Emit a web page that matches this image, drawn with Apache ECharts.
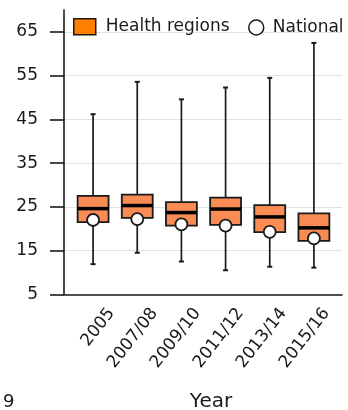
<!DOCTYPE html>
<html>
<head>
<meta charset="utf-8">
<script src="https://cdn.jsdelivr.net/npm/echarts@6/dist/echarts.min.js"></script>
<style>
  html, body { margin: 0; padding: 0; background: #fff; }
  #chart { width: 348px; height: 410px; }
</style>
</head>
<body>
<div id="chart"></div>
<script>
// Survey years
const years = ['2005', '2007/08', '2009/10', '2011/12', '2013/14', '2015/16'];
// Health-region distribution per year: whisker low, lower quartile, median, upper quartile, whisker high
const whiskerLow  = [11.9, 14.5, 12.5, 10.5, 11.3, 11.1];
const quartile1   = [21.5, 22.5, 20.7, 20.9, 19.2, 17.2];
const medians     = [24.6, 25.3, 23.7, 24.5, 22.7, 20.2];
const quartile3   = [27.5, 27.8, 26.1, 27.1, 25.4, 23.5];
const whiskerHigh = [46.2, 53.6, 49.6, 52.3, 54.5, 62.5];
// National value per year
const national    = [22.0, 22.2, 21.0, 20.7, 19.3, 17.8];
// Y axis ticks
const yTicks = [5, 15, 25, 35, 45, 55, 65];

const FONT = 'DejaVu Sans';
const INK = '#1a1a1a';

const boxData = years.map((y, i) => [i, whiskerLow[i], quartile1[i], medians[i], quartile3[i], whiskerHigh[i]]);
const natData = years.map((y, i) => [i, national[i]]);

function renderBox(params, api) {
  const i = api.value(0);
  const pLow = api.coord([i, api.value(1)]);
  const pQ1 = api.coord([i, api.value(2)]);
  const pMed = api.coord([i, api.value(3)]);
  const pQ3 = api.coord([i, api.value(4)]);
  const pHigh = api.coord([i, api.value(5)]);
  const bw = api.size([1, 0])[0] * 0.7;
  const cx = pMed[0];
  const cap = 2.5;
  const lineStyle = { stroke: INK, lineWidth: 1.7 };
  return {
    type: 'group',
    children: [
      { type: 'line', shape: { x1: cx, y1: pLow[1], x2: cx, y2: pQ1[1] }, style: lineStyle },
      { type: 'line', shape: { x1: cx, y1: pQ3[1], x2: cx, y2: pHigh[1] }, style: lineStyle },
      { type: 'line', shape: { x1: cx - cap, y1: pLow[1], x2: cx + cap, y2: pLow[1] }, style: { stroke: INK, lineWidth: 2 } },
      { type: 'line', shape: { x1: cx - cap, y1: pHigh[1], x2: cx + cap, y2: pHigh[1] }, style: { stroke: INK, lineWidth: 2 } },
      { type: 'rect', shape: { x: cx - bw / 2, y: pQ3[1], width: bw, height: pQ1[1] - pQ3[1] },
        style: { fill: '#F98B55', stroke: INK, lineWidth: 1.8 } },
      { type: 'line', shape: { x1: cx - bw / 2, y1: pMed[1], x2: cx + bw / 2, y2: pMed[1] },
        style: { stroke: '#000', lineWidth: 3.5 } }
    ]
  };
}

const chart = echarts.init(document.getElementById('chart'), null, { renderer: 'canvas' });
const plotBottom = 115.7;

chart.setOption({
  animation: false,
  backgroundColor: '#fff',
  grid: [
    { left: 64, right: 6, top: 10, bottom: plotBottom },      // axis frame
    { left: 64, right: 6, top: 32, bottom: plotBottom },      // y ticks, labels, gridlines
    { left: 71, width: 265, top: 32, bottom: plotBottom },    // boxes and points
    { left: 90, width: 265, top: 32, bottom: plotBottom }     // category labels
  ],
  xAxis: [
    { gridIndex: 0, type: 'value', min: 0, max: 1,
      axisLine: { show: true, lineStyle: { color: INK, width: 1.6 } },
      axisTick: { show: false }, axisLabel: { show: false }, splitLine: { show: false } },
    { gridIndex: 1, type: 'value', min: 0, max: 1, show: false },
    { gridIndex: 2, type: 'category', data: years, show: false },
    { gridIndex: 3, type: 'category', data: years,
      axisLine: { show: false }, axisTick: { show: false }, splitLine: { show: false },
      axisLabel: { interval: 0, rotate: 52, margin: 16, fontFamily: FONT, fontSize: 17, color: INK } }
  ],
  yAxis: [
    { gridIndex: 0, type: 'value', min: 5, max: 70,
      axisLine: { show: true, lineStyle: { color: INK, width: 1.6 } },
      axisTick: { show: false }, axisLabel: { show: false }, splitLine: { show: false } },
    { gridIndex: 1, type: 'value', min: yTicks[0], max: yTicks[yTicks.length - 1], interval: 10,
      axisLine: { show: false },
      axisTick: { show: true, length: 14, lineStyle: { color: INK, width: 1.6 } },
      axisLabel: { margin: 26, fontFamily: FONT, fontSize: 17, color: INK },
      splitLine: { show: true, lineStyle: { color: '#e2e2e2', width: 1 } } },
    { gridIndex: 2, type: 'value', min: yTicks[0], max: yTicks[yTicks.length - 1], show: false },
    { gridIndex: 3, type: 'value', min: yTicks[0], max: yTicks[yTicks.length - 1], show: false }
  ],
  legend: [
    { left: 73, top: 18, itemWidth: 22, itemHeight: 16, padding: 0,
      data: [{ name: 'Health regions', icon: 'rect',
               itemStyle: { color: '#FF8000', borderColor: INK, borderWidth: 1.5 } }],
      textStyle: { fontFamily: FONT, fontSize: 17, color: INK, padding: [0, 0, 0, 5] },
      selectedMode: false },
    { left: 248, top: 19, itemWidth: 15, itemHeight: 15, padding: 0,
      data: [{ name: 'National', icon: 'circle',
               itemStyle: { color: '#fff', borderColor: INK, borderWidth: 1.5 } }],
      textStyle: { fontFamily: FONT, fontSize: 17, color: INK, padding: [0, 0, 0, 4] },
      selectedMode: false }
  ],
  graphic: [
    { type: 'text', x: 211, y: 402,
      style: { text: 'Year', fontFamily: FONT, fontSize: 20, fill: INK, align: 'center', verticalAlign: 'middle' } },
    { type: 'text', x: 3, y: 402,
      style: { text: '9', fontFamily: FONT, fontSize: 18, fill: INK, align: 'left', verticalAlign: 'middle' } }
  ],
  series: [
    { name: 'Health regions', type: 'custom', xAxisIndex: 2, yAxisIndex: 2,
      renderItem: renderBox, data: boxData, encode: { x: 0, y: [1, 2, 3, 4, 5] }, z: 2 },
    { name: 'National', type: 'scatter', xAxisIndex: 2, yAxisIndex: 2,
      data: natData, symbol: 'circle', symbolSize: 12,
      itemStyle: { color: '#fff', borderColor: INK, borderWidth: 1.8, opacity: 1 }, z: 3 }
  ]
});
</script>
</body>
</html>
